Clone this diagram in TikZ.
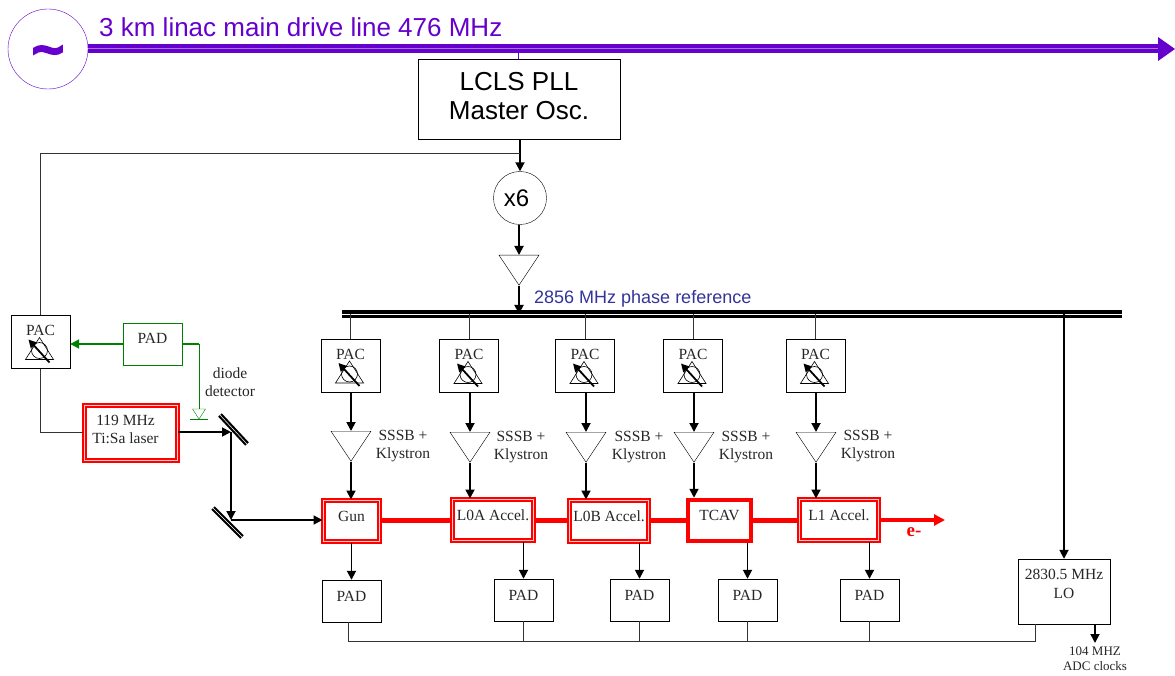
\documentclass[tikz,border=0pt]{standalone}
\usepackage{fontspec}
\setmainfont{Liberation Serif}
\newfontfamily\arialfont{Liberation Sans}
\newfontfamily\tildefont[FakeBold=6]{Liberation Sans}
\usetikzlibrary{arrows.meta,shapes.geometric}
\definecolor{drive}{HTML}{6600CC}
\definecolor{refblue}{HTML}{333399}
\definecolor{padgreen}{HTML}{008000}
\tikzset{
  blk/.style     ={draw,thin,align=center,inner sep=0pt},
  padbox/.style  ={blk,minimum width=59pt,minimum height=42pt},
  pacbox/.style  ={blk,minimum width=59pt,minimum height=53pt,
                   label={[anchor=north,inner sep=0pt,yshift=-10pt,font=\fontsize{15.5}{18}\selectfont,text=black!85]north:PAC}},
  rfbox/.style   ={blk,draw=red,line width=2pt,double=red!20,double distance=1pt},
  ampl/.style    ={draw,thin,isosceles triangle,isosceles triangle stretches,shape border rotate=-90,
                   inner sep=0pt,minimum width=40pt,minimum height=30pt,anchor=lower side},
  flow/.style    ={-{Triangle[length=9pt,width=9pt]},line width=1.8pt},
  wire/.style    ={line width=0.7pt,black!80},
  beam/.style    ={red,line width=5pt},
  lbl/.style     ={align=center,inner sep=0pt,font=\fontsize{15.5}{18}\selectfont,text=black!85},
  mirror/.style  ={line width=2.2pt,double=white,double distance=0.5pt},
  pacsym/.pic    ={
    \draw[line width=0.6pt] (-15,17.5) -- (13,17.5) -- (-1,-4.5) -- cycle;
    \draw[line width=0.6pt] (-1,8.5) circle (8);
    \draw[-{Triangle[length=8pt,width=8pt]},line width=1.8pt] (9,20.5) -- (-12,-2.5);
  },
}
\begin{document}
\begin{tikzpicture}[x=1pt,y=-1pt]
  \useasboundingbox (0,0) rectangle (1175,676);
  % drive line
  \node[draw=drive,thin,circle,minimum size=80pt,inner sep=0pt,text=drive,font=\tildefont\fontsize{54}{54}\selectfont] (osc) at (48,49) {\raisebox{-19pt}[0pt][0pt]{\textasciitilde}};
  \coordinate (driveend) at (1158,49);
  \draw[drive,line width=4pt,double=drive!55,double distance=1pt] (osc.east) -- (driveend);
  \fill[drive] (driveend) ++(0,-12) -- (1175,49) -- (1158,61) -- cycle;
  \node[anchor=west,inner sep=0pt,text=drive,font=\arialfont\fontsize{26}{28}\selectfont] (drivetxt) at (99,27) {3 km linac main drive line 476 MHz};
  % master oscillator
  \node[blk,minimum width=202pt,minimum height=80pt] (mosc) at (519,99) {};
  \node[lbl,yshift=3pt,text=black,font=\arialfont\fontsize{26}{29}\selectfont] (mosctxt) at (mosc) {LCLS PLL\\Master Osc.};
  \coordinate (tap) at (518,49);
  \draw[drive,thin] (tap) -- (tap |- mosc.north);
  \node[draw,thin,circle,minimum size=53pt,inner sep=0pt,font=\arialfont\fontsize{24}{26}\selectfont] (x6) at (520,198) {\hspace{-7pt}x6};
  \node[ampl] (amp0) at (519,255) {};
  \coordinate (busL) at (342,314);
  \coordinate (busR) at (1122,314);
  \coordinate (bus0) at (519,314);
  \draw[line width=3.6pt,double=white,double distance=0.6pt] (busL) -- (busR);
  \node[anchor=west,inner sep=0pt,text=refblue,font=\arialfont\fontsize{18}{20}\selectfont] (reftxt) at (534,298.5) {2856 MHz phase reference};
  \draw[flow] (mosc.south -| x6) -- (x6.north);
  \draw[flow] (x6.south -| amp0.apex) -- (amp0.lower side);
  \draw[flow] (amp0.apex) -- (bus0);
  % laser loop
  \node[pacbox] (pac0) at (40.5,342) {};
  \node[padbox,draw=padgreen] (pad0) at (152.5,344) {};
  \node[lbl,yshift=6pt] (pad0txt) at (pad0) {PAD};
  \node[rfbox,minimum width=93pt,minimum height=55pt] (laser) at (130.5,432.5) {};
  \node[lbl,yshift=3.5pt,xshift=-5pt] (lasertxt) at (laser) {119 MHz\\Ti:Sa laser};
  \node[lbl] (diodetxt) at (230,382) {diode\\detector};
  \coordinate (diode) at (199,409);
  \coordinate (m1) at (231,432);
  \coordinate (m2) at (231,520);
  \draw[wire] (pac0.north) |- (x6.north |- 0,153);
  \draw[wire] (pac0.south) |- (laser.west);
  \draw[-{Triangle[length=9pt,width=9pt]},padgreen,line width=1.8pt] (pad0.west) -- (pac0.east |- pad0.west);
  \draw[padgreen,line width=1.8pt] (pad0.east) -- (pad0.east -| diode);
  \draw[padgreen,thin] (pad0.east -| diode) -- (diode);
  \draw[padgreen,thin] (diode) ++(-6.5,0) -- ++(13,0) -- ++(-6.5,10) -- cycle;
  \draw[padgreen,thin] (190,419) -- (208,419);
  \draw[mirror] (220,415) -- (247,444);
  \draw[mirror] (213,508) -- (242,537);
  \draw[flow] (laser.east |- m1) -- (m1);
  \draw[flow] (m1) -- (m2);
  % phase and amplitude control
  \node[pacbox] (pac1) at (350.5,365.5) {};
  \node[pacbox] (pac2) at (469,366) {};
  \node[pacbox] (pac3) at (585,366) {};
  \node[pacbox] (pac4) at (693,366) {};
  \node[pacbox] (pac5) at (815.5,366) {};
  \foreach \p in {pac0,pac1,pac2,pac3,pac4,pac5} \pic at (\p) {pacsym};
  \node[ampl] (amp1) at (351,431) {};
  \node[ampl] (amp2) at (470,432) {};
  \node[ampl] (amp3) at (586,432) {};
  \node[ampl] (amp4) at (694,432) {};
  \node[ampl] (amp5) at (816,432) {};
  \node[lbl] (ssb1) at (403,446.5) {SSSB +\\Klystron};
  \node[lbl] (ssb2) at (521,447.5) {SSSB +\\Klystron};
  \node[lbl] (ssb3) at (639,447.5) {SSSB +\\Klystron};
  \node[lbl] (ssb4) at (746,447.5) {SSSB +\\Klystron};
  \node[lbl] (ssb5) at (868,446.5) {SSSB +\\Klystron};
  % accelerating structures
  \node[rfbox,minimum width=56pt,minimum height=41pt] (gun) at (351.5,521) {};
  \node[rfbox,minimum width=81pt,minimum height=41pt] (l0a) at (493,520) {};
  \node[rfbox,minimum width=79pt,minimum height=41pt] (l0b) at (609,521) {};
  \node[blk,draw=red,line width=4.5pt,minimum width=63pt,minimum height=41pt] (tcav) at (719.5,520.5) {};
  \node[rfbox,minimum width=79pt,minimum height=41pt] (l1) at (839,520) {};
  \coordinate (beamend) at (945,520);
  \draw[beam] (gun.east |- l0a.west) -- (l0a.west);
  \draw[beam] (l0a.east) -- (l0a.east -| l0b.west);
  \draw[beam] (l0b.east |- tcav.west) -- (tcav.west);
  \draw[beam] (tcav.east) -- (tcav.east -| l1.west);
  \draw[beam,line width=4pt,-{Triangle[length=11pt,width=11pt]}] (l1.east) -- (beamend);
  \node[lbl,yshift=5pt] (gtxt) at (gun) {Gun};
  \node[lbl,yshift=5pt] (l0atxt) at (l0a) {L0A Accel.};
  \node[lbl,yshift=5pt] (l0btxt) at (l0b) {L0B Accel.};
  \node[lbl,yshift=5pt] (tcavtxt) at (tcav) {TCAV};
  \node[lbl,yshift=5pt] (l1txt) at (l1) {L1 Accel.};
  \node[text=red,inner sep=0pt,font=\bfseries\fontsize{19}{20}\selectfont] (etxt) at (914,532) {e-};
  \draw[flow] (m2) -- (m2 -| gun.west);
  % pick-up detectors
  \node[padbox] (pad1) at (351.5,601) {};
  \node[padbox] (pad2) at (523.5,600) {};
  \node[padbox] (pad3) at (639.5,600) {};
  \node[padbox] (pad4) at (747.5,600) {};
  \node[padbox] (pad5) at (869.5,600) {};
  \foreach \p in {pad1,pad2,pad3,pad4,pad5} \node[lbl,yshift=5pt] at (\p) {PAD};
  \node[blk,minimum width=92pt,minimum height=65pt] (lo) at (1064,591.5) {};
  \node[lbl,yshift=8pt,font=\fontsize{15.5}{19}\selectfont] (lotxt) at (lo) {2830.5 MHz\\LO};
  \node[lbl,font=\fontsize{13}{15}\selectfont] (adctxt) at (1095,659) {104 MHZ\\ADC clocks};
  \foreach \a/\b in {pac1/amp1,pac2/amp2,pac3/amp3,pac4/amp4,pac5/amp5} {
    \draw[wire] (\a.north |- busR) -- (\a.north);
    \draw[flow] (\a.south -| \b.apex) -- (\b.lower side);
  }
  \foreach \a/\b in {amp1/gun,amp2/l0a,amp3/l0b,amp4/tcav,amp5/l1}
    \draw[flow] (\a.apex) -- (\a.apex |- \b.north);
  \foreach \a/\b in {gun/pad1,l0a/pad2,l0b/pad3,tcav/pad4,l1/pad5}
    \draw[flow] (\b.north |- \a.south) -- (\b.north);
  \coordinate (pickup) at (348,641);
  \draw[wire] (pickup) -- (pickup |- pad1.south);
  \foreach \b in {pad2,pad3,pad4,pad5}
    \draw[wire] (\b.south) -- (\b.south |- pickup);
  \draw[wire] (pickup) -| (1035,624);
  \draw[flow] (lo.north |- busR) -- (lo.north);
  \draw[flow] (1095,624) -- (1095,643);
\end{tikzpicture}
\end{document}
